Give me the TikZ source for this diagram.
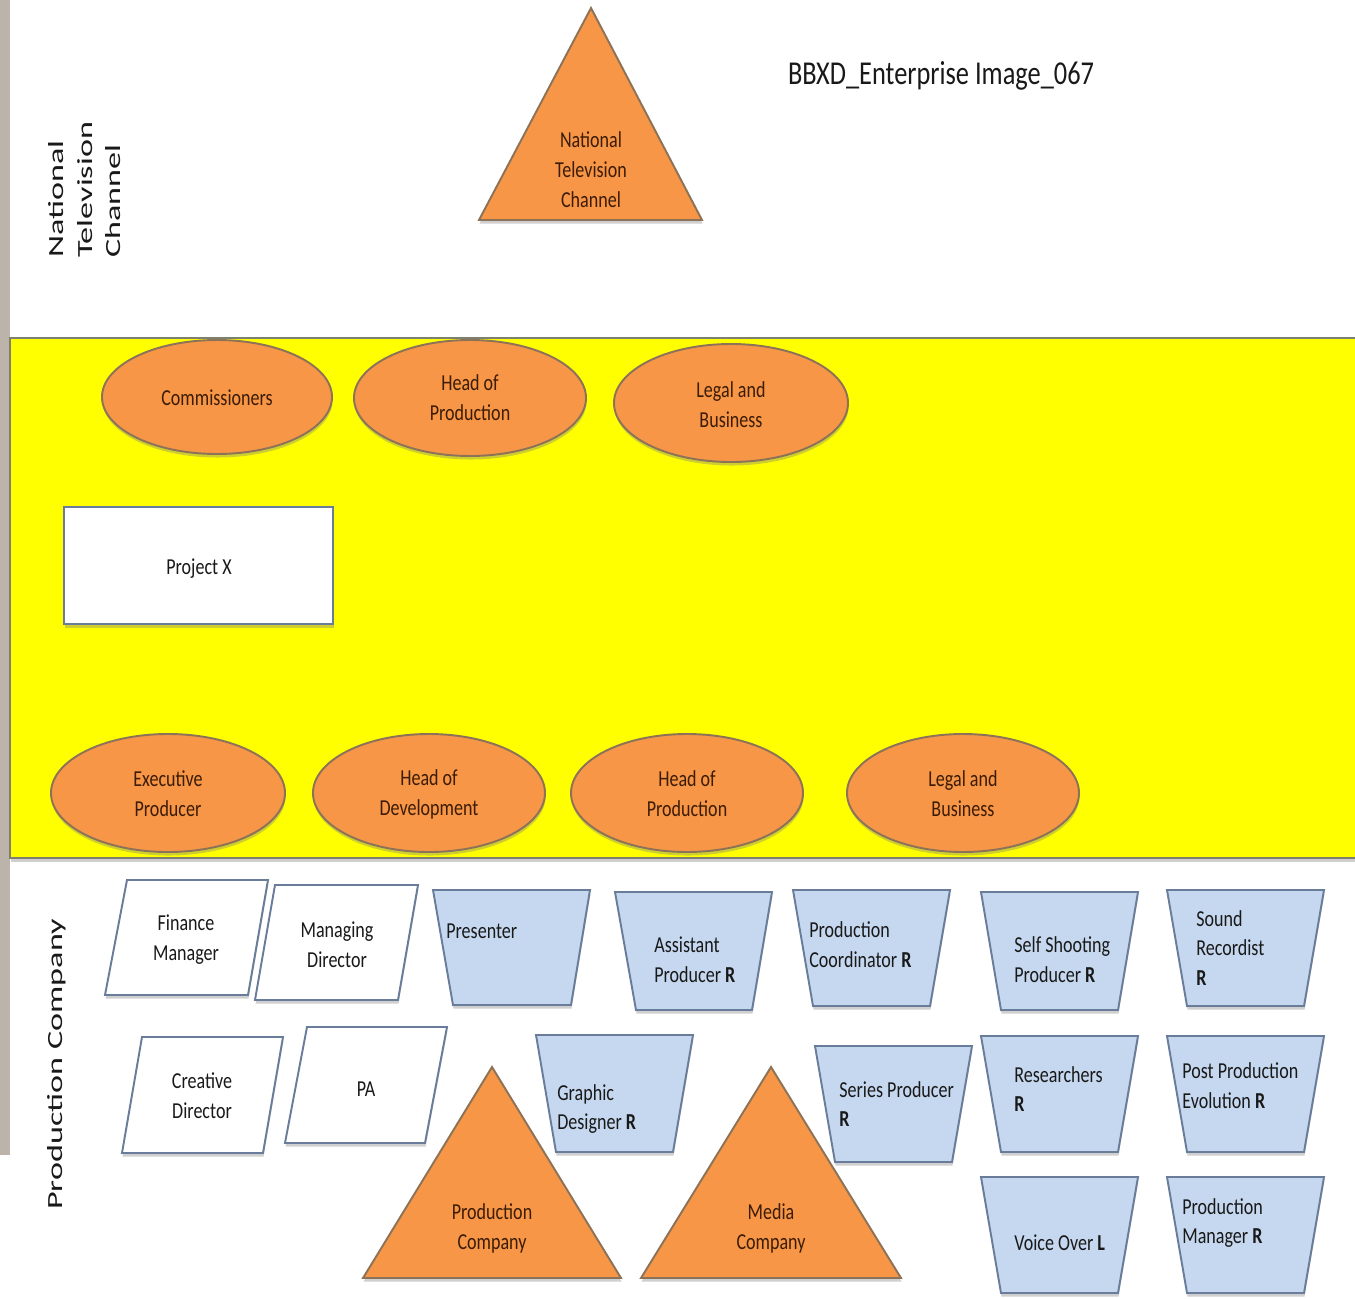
\documentclass[tikz,border=0pt]{standalone}
\usepackage{fontspec}
\setmainfont{Carlito}[FakeStretch=0.79]
\newfontfamily\sidefont{Carlito}[FakeStretch=1.58]
\usetikzlibrary{shadows}

\definecolor{bandyellow}{RGB}{255,255,0}
\definecolor{bandline}{RGB}{125,128,110}
\definecolor{orangefill}{RGB}{247,150,70}
\definecolor{orangeline}{RGB}{140,115,88}
\definecolor{bluefill}{RGB}{198,216,240}
\definecolor{blueline}{RGB}{105,125,155}
\definecolor{stripgrey}{RGB}{188,180,170}
\definecolor{browntext}{RGB}{60,28,6}
\definecolor{darktext}{RGB}{25,25,25}

\tikzset{
  shade below/.style={drop shadow={opacity=0.38, shadow xshift=0.3pt, shadow yshift=-2pt}},
  orangeshape/.style={fill=orangefill, draw=orangeline, line width=1.1pt, shade below},
  blueshape/.style={fill=bluefill, draw=blueline, line width=1.1pt, shade below},
  whiteshape/.style={fill=white, draw=blueline, line width=1.1pt, shade below},
  lbl/.style={font=\fontsize{13}{17}\selectfont, text=darktext, align=center, inner sep=0pt},
  orangelbl/.style={lbl, text=browntext},
  leftlbl/.style={lbl, align=left, anchor=west},
  sidelbl/.style={font=\sidefont\fontsize{12.3}{16.2}\selectfont, text=darktext, align=left, rotate=90, anchor=west, inner sep=0pt}
}

\begin{document}
\begin{tikzpicture}[x=0.02cm, y=-0.02cm]
	\useasboundingbox (0,0) rectangle (1355,1298);
	
	% grey strip and the yellow band
	\fill[stripgrey] (0,0) rectangle (10,1155);
	\draw[fill=bandyellow, draw=bandline, line width=1.4pt, shade below] (10,338) rectangle (1400,858);
	
	% side labels
	\node[sidelbl] (sidetv) at (85,258) {National\\Television\\Channel};
	\node[sidelbl] (sidepc) at (57,1210) {Production Company};
	
	% national television channel
	\draw[orangeshape] (591,8) -- (702,220) -- (479,220) -- cycle;
	\node[orangelbl] (ntc) at (591,170) {National\\Television\\Channel};
	\node[lbl, font=\fontsize{19}{23}\selectfont] (title) at (941,76) {BBXD\_Enterprise Image\_067};
	
	% channel people
	\draw[orangeshape] (217,397) ellipse [x radius=115, y radius=57];
	\node[orangelbl] (comm) at (217,398) {Commissioners};
	\draw[orangeshape] (470,398) ellipse [x radius=116, y radius=58];
	\node[orangelbl] (hop1) at (470,398) {Head of\\Production};
	\draw[orangeshape] (731,403) ellipse [x radius=117, y radius=59];
	\node[orangelbl] (legal1) at (731,405) {Legal and\\Business};
	
	\draw[whiteshape] (64,507) rectangle (333,624);
	\node[lbl] (projx) at (199,569) {Project X};
	
	% company people
	\draw[orangeshape] (168,793) ellipse [x radius=117, y radius=59];
	\node[orangelbl] (exec) at (168,794) {Executive\\Producer};
	\draw[orangeshape] (429,793) ellipse [x radius=116, y radius=59];
	\node[orangelbl] (hod) at (429,794) {Head of\\Development};
	\draw[orangeshape] (687,793) ellipse [x radius=116, y radius=59];
	\node[orangelbl] (hop2) at (687,794) {Head of\\Production};
	\draw[orangeshape] (963,793) ellipse [x radius=116, y radius=59];
	\node[orangelbl] (legal2) at (963,794) {Legal and\\Business};
	
	% office staff
	\draw[whiteshape] (105,995) -- (127,880) -- (268,880) -- (248,995) -- cycle;
	\node[lbl] (finance) at (186,940) {Finance\\Manager};
	\draw[whiteshape] (255,1000) -- (275,885) -- (418,885) -- (398,1000) -- cycle;
	\node[lbl] (managing) at (337,945) {Managing\\Director};
	\draw[whiteshape] (122,1153) -- (142,1037) -- (283,1037) -- (263,1153) -- cycle;
	\node[lbl] (creative) at (202,1096) {Creative\\Director};
	\draw[whiteshape] (285,1143) -- (307,1027) -- (447,1027) -- (425,1143) -- cycle;
	\node[lbl] (pa) at (366,1089) {PA};
	
	% crew
	\draw[blueshape] (433,890) -- (590,890) -- (571,1005) -- (453,1005) -- cycle;
	\node[leftlbl] (presenter) at (446,931) {Presenter};
	\draw[blueshape] (615,892) -- (772,892) -- (752,1010) -- (636,1010) -- cycle;
	\node[leftlbl] (asstprod) at (654,960) {Assistant\\Producer \textbf{R}};
	\draw[blueshape] (793,890) -- (950,890) -- (930,1006) -- (813,1006) -- cycle;
	\node[leftlbl] (prodcoord) at (809,945) {Production\\Coordinator \textbf{R}};
	\draw[blueshape] (981,892) -- (1138,892) -- (1118,1010) -- (1001,1010) -- cycle;
	\node[leftlbl] (selfshoot) at (1014,960) {Self Shooting\\Producer \textbf{R}};
	\draw[blueshape] (1167,890) -- (1324,890) -- (1304,1006) -- (1187,1006) -- cycle;
	\node[leftlbl] (sound) at (1196,948) {Sound\\Recordist\\\textbf{R}};
	
	\draw[blueshape] (536,1035) -- (693,1035) -- (673,1152) -- (556,1152) -- cycle;
	\node[leftlbl] (graphic) at (557,1109) {Graphic\\Designer \textbf{R}};
	\draw[blueshape] (815,1046) -- (972,1046) -- (952,1162) -- (835,1162) -- cycle;
	\node[leftlbl] (series) at (839,1104) {Series Producer\\\textbf{R}};
	\draw[blueshape] (981,1036) -- (1138,1036) -- (1118,1152) -- (1001,1152) -- cycle;
	\node[leftlbl] (research) at (1014,1089) {Researchers\\\textbf{R}};
	\draw[blueshape] (1167,1036) -- (1324,1036) -- (1304,1152) -- (1187,1152) -- cycle;
	\node[leftlbl] (postprod) at (1182,1086) {Post Production\\Evolution \textbf{R}};
	
	\draw[blueshape] (981,1177) -- (1138,1177) -- (1118,1293) -- (1001,1293) -- cycle;
	\node[leftlbl] (voice) at (1014,1243) {Voice Over \textbf{L}};
	\draw[blueshape] (1167,1177) -- (1324,1177) -- (1304,1293) -- (1187,1293) -- cycle;
	\node[leftlbl] (prodman) at (1182,1223) {Production\\Manager \textbf{R}};
	
	% companies
	\draw[orangeshape] (492,1067) -- (621,1278) -- (363,1278) -- cycle;
	\node[orangelbl] (prodco) at (492,1228) {Production\\Company};
	\draw[orangeshape] (771,1067) -- (901,1278) -- (641,1278) -- cycle;
	\node[orangelbl] (mediaco) at (771,1228) {Media\\Company};
\end{tikzpicture}
\end{document}
